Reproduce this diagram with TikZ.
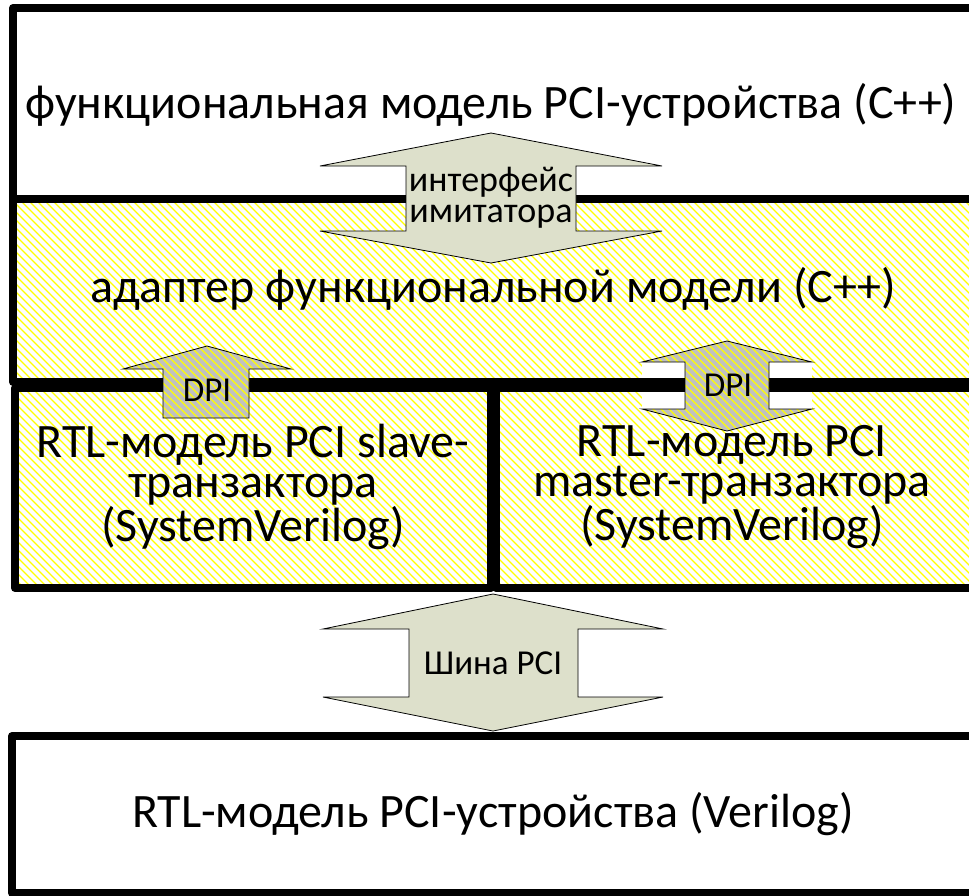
\documentclass[tikz,border=0pt]{standalone}
\usepackage{fontspec}
\setmainfont{Carlito}
\usetikzlibrary{calc}
\definecolor{hatchyel}{HTML}{FFFF00}
\definecolor{ifcolive}{HTML}{DDE0CB}
\definecolor{dpigray}{HTML}{C0C0C0}

\tikzset{
  layerbox/.style={draw=black, line width=8pt, line join=round},
  hatchline/.style={hatchyel, line width=1.2pt},
  blockarrow/.style={draw=black, line width=0.8pt, line join=miter},
  bigtext/.style={font=\fontsize{48}{40}\selectfont, align=center, inner sep=0pt},
  smalltext/.style={font=\fontsize{36}{31}\selectfont, align=center, inner sep=0pt},
  dpitext/.style={font=\fontsize{35}{31}\selectfont, inner sep=0pt}
}
\newcommand{\hatchfill}{%
  \foreach \k in {-900,-892,...,980} \draw[hatchline] (\k,0) -- ++(900,900);}

\begin{document}
\begin{tikzpicture}[x=1pt, y=-1pt]
\useasboundingbox (0,0) rectangle (969,895);
\clip (0,0) rectangle (969,895);
\fill[white] (0,0) rectangle (969,895);

% hatched layers (adapter + transactors)
\begin{scope}
  \clip (13,199) rectangle (973,588);
  \hatchfill
\end{scope}
\fill[white] (642,362) rectangle (685,409);
\fill[white] (769,362) rectangle (812,409);

% layer frames
\draw[layerbox] (13,8) rectangle (973,199);
\draw[layerbox] (13,199) rectangle (973,382);
\draw[layerbox] (15,388) rectangle (491,588);
\draw[layerbox] (496,388) rectangle (973,588);
\draw[layerbox] (12,736) rectangle (973,893);

% simulator interface
\draw[blockarrow, fill=ifcolive]
  (491,133) -- (662,166) -- (576,166) -- (576,231) -- (662,231) -- (491,263)
  -- (320,231) -- (406,231) -- (406,166) -- (320,166) -- cycle;

% DPI, slave side
\fill[dpigray] (207,346) -- (291,369) -- (249,369) -- (249,418) -- (163,418)
  -- (163,369) -- (123,369) -- cycle;
\begin{scope}
  \clip (207,346) -- (291,369) -- (249,369) -- (249,418) -- (163,418)
    -- (163,369) -- (123,369) -- cycle;
  \hatchfill
\end{scope}
\draw[blockarrow] (207,346) -- (291,369) -- (249,369) -- (249,418) -- (163,418)
  -- (163,369) -- (123,369) -- cycle;

% DPI, master side
\fill[dpigray] (727,341) -- (812,362) -- (769,362) -- (769,409) -- (812,409) -- (727,431)
  -- (642,409) -- (685,409) -- (685,362) -- (642,362) -- cycle;
\begin{scope}
  \clip (727,341) -- (812,362) -- (769,362) -- (769,409) -- (812,409) -- (727,431)
    -- (642,409) -- (685,409) -- (685,362) -- (642,362) -- cycle;
  \hatchfill
\end{scope}
\draw[blockarrow] (727,341) -- (812,362) -- (769,362) -- (769,409) -- (812,409) -- (727,431)
  -- (642,409) -- (685,409) -- (685,362) -- (642,362) -- cycle;

% PCI bus
\draw[blockarrow, fill=ifcolive]
  (493,594) -- (663,629) -- (578,629) -- (578,697) -- (663,697) -- (493,731)
  -- (323,697) -- (409,697) -- (409,629) -- (323,629) -- cycle;

% labels
\node[bigtext] (func) at (491,105) {функциональная модель PCI-устройства (C++)};
\node[bigtext] (adapt) at (493,289) {адаптер функциональной модели (C++)};
\node[smalltext] (iface) at (491,198) {интерфейс\\имитатора};
\node[dpitext] (dpiS) at (207,390) {DPI};
\node[dpitext] (dpiM) at (728,385) {DPI};
\node[bigtext] (slave) at (253,487) {RTL-модель PCI slave-\\транзактора\\(SystemVerilog)};
\node[bigtext] (master) at (732,487) {RTL-модель PCI\\master-транзактора\\(SystemVerilog)};
\node[dpitext] (bus) at (493,663) {Шина PCI};
\node[bigtext] (dev) at (493,814) {RTL-модель PCI-устройства (Verilog)};
\end{tikzpicture}
\end{document}
